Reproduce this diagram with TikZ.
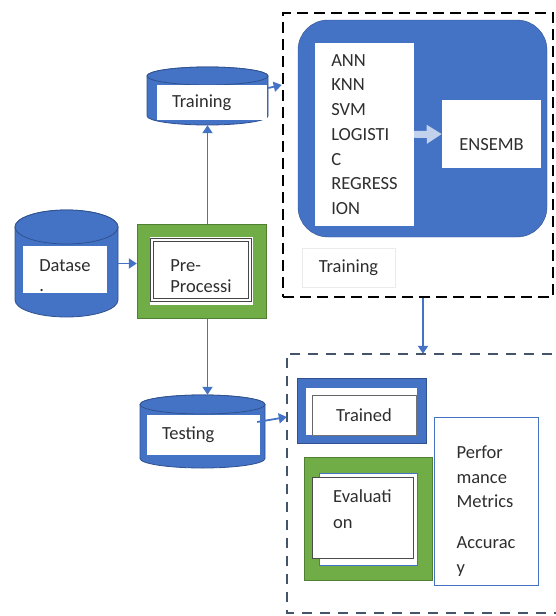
\documentclass[tikz,border=0pt]{standalone}
\usepackage{fontspec}
\setmainfont{Carlito}
\usetikzlibrary{arrows.meta}
\definecolor{oBlue}{HTML}{4472C4}
\definecolor{oBlueDk}{HTML}{2F528F}
\definecolor{oGreen}{HTML}{70AD47}
\definecolor{oGreenDk}{HTML}{507E32}
\definecolor{oSlate}{HTML}{44546A}
\definecolor{oPale}{HTML}{C2D2EC}
\definecolor{ink}{HTML}{2E2E2E}

\begin{document}
\begin{tikzpicture}[x=1pt,y=1pt,
    txt/.style={font=\fontsize{18.5}{24.7}\selectfont,text=ink,align=left},
    wbox/.style={txt,fill=white,inner sep=0pt},
    drum/.style={fill=oBlue,draw=oBlueDk,line width=0.8pt},
    link/.style={draw=oBlue,line width=1.8pt,-{Triangle[length=8pt,width=10pt]}}]
    \useasboundingbox(0,0)rectangle(556,-616);

    % stage frames
    \node[draw=black,line width=2.6pt,dash pattern=on 11pt off 6pt,minimum width=270,
        minimum height=284,inner sep=0](trainFrame)at(418,-155){};
    \node[minimum width=283,minimum height=259,inner sep=0](evalFrame)at(428.5,-483.5){};
    \draw[oSlate,line width=2.4pt,dash pattern=on 10pt off 8pt](evalFrame.north east)
        --(evalFrame.north west)--(evalFrame.south west)--(evalFrame.south east);

    % data stores
    \node[minimum width=103,minimum height=107,inner sep=0](dataCyl)at(66.5,-263.5){};
    \path[drum](15,-227)--(15,-300)arc[start angle=180,end angle=360,x radius=51.5,y radius=17]
        --(118,-227)arc[start angle=0,end angle=180,x radius=51.5,y radius=17]--cycle;
    \draw[drum](66.5,-227)ellipse[x radius=51.5,y radius=17];
    \node[wbox,minimum width=84,minimum height=47,text height=45pt](dataset)at(65,-269.5){Datase\\[-4.7pt].};

    \node[minimum width=121,minimum height=58,inner sep=0](trainCyl)at(207.5,-96){};
    \path[drum](147,-76)--(147,-116)arc[start angle=180,end angle=360,x radius=60.5,y radius=9]
        --(268,-76)arc[start angle=0,end angle=180,x radius=60.5,y radius=9]--cycle;
    \draw[drum](207.5,-76)ellipse[x radius=60.5,y radius=9];
    \node[wbox,minimum height=35,text width=80pt,inner xsep=15pt](trainSet)at(212,-102.5){Training};

    \node[minimum width=125,minimum height=73,inner sep=0](testCyl)at(202.5,-431.5){};
    \path[drum](140,-404.5)--(140,-458.5)arc[start angle=180,end angle=360,x radius=62.5,y radius=9.5]
        --(265,-404.5)arc[start angle=0,end angle=180,x radius=62.5,y radius=9.5]--cycle;
    \draw[drum](202.5,-404.5)ellipse[x radius=62.5,y radius=9.5];
    \node[wbox,minimum height=40,text width=83pt,inner xsep=15pt](testSet)at(203.5,-435){Testing};

    % pre-processing
    \node[fill=oGreen,draw=oGreenDk,minimum width=129,minimum height=94,inner sep=0](prepBox)at(201.5,-271){};
    \node[fill=white,minimum width=103,minimum height=68,inner sep=0](prepPad)at(201.5,-271){};
    \node[wbox,draw=gray!55!black,double=white,double distance=1.3pt,line width=0.9pt,
        minimum width=98,minimum height=60,text height=46pt](prep)at(201,-270){Pre-\\[-3.7pt]Processi};

    % training stage
    \node[fill=oBlue,draw=oBlueDk,rounded corners=30pt,minimum width=249,minimum height=217,
        inner sep=0](learnBox)at(422.5,-128.5){};
    \node[wbox,minimum width=99,minimum height=183](models)at(364.5,-134.5){ANN\\KNN\\SVM\\LOGISTI\\C\\REGRESS\\ION};
    \node[wbox,minimum width=99,minimum height=68,text height=34pt](ensemble)at(491.5,-134){ENSEMB};
    \draw[oPale,line width=7pt,-{Triangle[length=15pt,width=18pt]}](models.east)--(ensemble.west);
    \node[wbox,draw=black!8,line width=0.5pt,minimum width=93,minimum height=39](trainTag)at(348.5,-267.5){Training};

    % evaluation stage
    \node[fill=oBlue,draw=oBlueDk,minimum width=129,minimum height=65,inner sep=0](trainedBox)at(361.5,-410.5){};
    \node[fill=white,minimum width=111,minimum height=47,inner sep=0](trainedPad)at(361.5,-411.5){};
    \node[wbox,draw=black!60,line width=0.9pt,minimum width=104,minimum height=40](trained)at(364,-415){Trained};
    \draw[black!55,line width=1.6pt](trained.north east)--(trained.south east)--(trained.south west);
    \node[fill=oGreen,draw=oGreenDk,minimum width=128,minimum height=123,inner sep=0](evalBox)at(368,-518.5){};
    \node[fill=white,draw=oBlue,minimum width=98,minimum height=92,inner sep=0](evalBack)at(368,-519){};
    \node[wbox,draw=black!70,minimum width=101,minimum height=81,text depth=16pt](evaluation)at(362.5,-517.5){Evaluati\\[1.3pt]on};
    \node[wbox,draw=oBlue,line width=0.6pt,minimum width=104,minimum height=168,
        text height=148pt](metrics)at(486,-501){Perfor\\mance\\Metrics\\[16.3pt]Accurac\\y};

    % connectors
    \draw[link](dataCyl.east)--(dataCyl.east-|prepBox.west);
    \draw[link](prepBox.north-|trainCyl.south)--(trainCyl.south);
    \draw[link](prepBox.south-|trainCyl.south)--(testCyl.north-|trainCyl.south);
    \draw[link]([yshift=8pt]trainCyl.east)--([yshift=70pt]trainFrame.west);
    \draw[link]([shift={(-8pt,9.5pt)}]testCyl.east)--([yshift=66.5pt]evalFrame.west);
    \draw[link]([xshift=5pt]trainFrame.south)--([xshift=-5.5pt]evalFrame.north);
\end{tikzpicture}
\end{document}
